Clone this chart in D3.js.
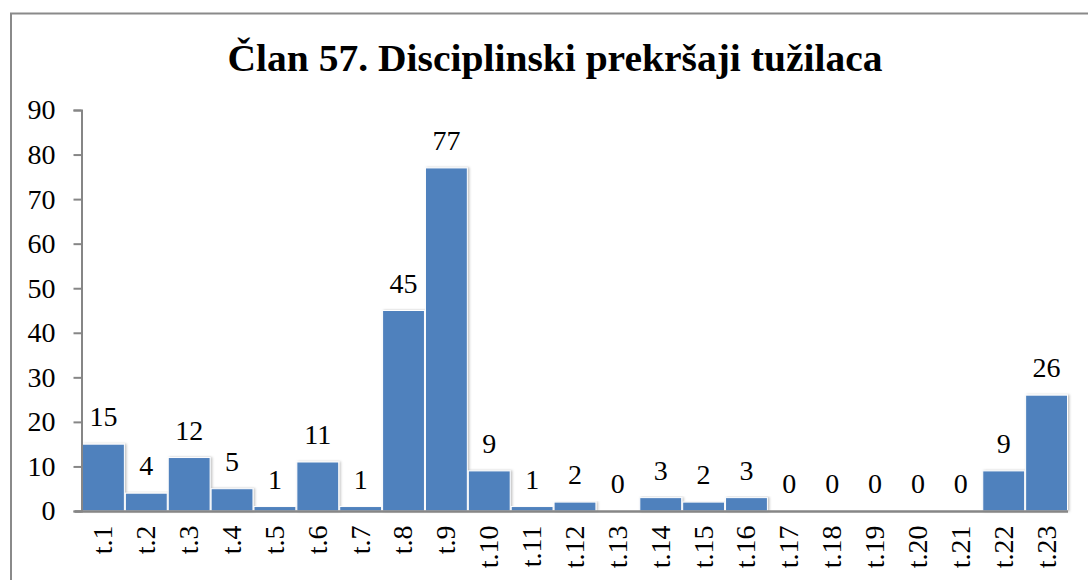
<!DOCTYPE html>
<html>
<head>
<meta charset="utf-8">
<script src="https://cdn.jsdelivr.net/npm/d3@7"></script>
<style>
  body { margin: 0; background: #fff; }
  text { font-family: "Liberation Serif", "DejaVu Serif", serif; }
</style>
</head>
<body>
<div id="chart"></div>
<script>
const categories = ['t.1','t.2','t.3','t.4','t.5','t.6','t.7','t.8','t.9','t.10','t.11','t.12',
  't.13','t.14','t.15','t.16','t.17','t.18','t.19','t.20','t.21','t.22','t.23'];
const values = [15, 4, 12, 5, 1, 11, 1, 45, 77, 9, 1, 2, 0, 3, 2, 3, 0, 0, 0, 0, 0, 9, 26];
const yTicks = [0, 10, 20, 30, 40, 50, 60, 70, 80, 90];
const title = 'Član 57. Disciplinski prekršaji tužilaca';

const width = 1088, height = 580;
const fontSize = '28px';

const svg = d3.select('#chart').append('svg')
  .attr('width', width)
  .attr('height', height);

// outer chart border (runs off the right and bottom edges)
svg.append('rect')
  .attr('x', 11).attr('y', 13.5)
  .attr('width', 1100).attr('height', 600)
  .style('fill', 'none')
  .style('stroke', '#8a8a8a')
  .style('stroke-width', 2);

svg.append('text')
  .attr('x', 555).attr('y', 71)
  .attr('text-anchor', 'middle')
  .style('font-weight', 'bold')
  .style('font-size', '37px')
  .attr('textLength', 655)
  .attr('lengthAdjust', 'spacingAndGlyphs')
  .text(title);

const x = d3.scaleBand()
  .domain(categories)
  .range([82, 1068])
  .paddingInner(0)
  .paddingOuter(0);

const y = d3.scaleLinear()
  .domain([0, 90])
  .range([511, 110]);

const g = svg.append('g');

// bars with a soft shadow
const defs = svg.append('defs');
const f = defs.append('filter').attr('id', 'shadow')
  .attr('x', '-10%').attr('y', '-10%').attr('width', '130%').attr('height', '130%');
f.append('feDropShadow').attr('dx', 1.5).attr('dy', 0).attr('stdDeviation', 1.2)
  .attr('flood-color', '#000').attr('flood-opacity', 0.25);

g.selectAll('rect.bar')
  .data(values)
  .enter().append('rect')
  .attr('class', 'bar')
  .attr('x', (d, i) => x(categories[i]) + 0.5)
  .attr('y', d => y(d))
  .attr('width', x.bandwidth() - 1)
  .attr('height', d => y(0) - y(d))
  .style('fill', '#4f81bd')
  .style('stroke', '#fff')
  .style('stroke-width', 1)
  .attr('filter', 'url(#shadow)');

// value labels
g.selectAll('text.val')
  .data(values)
  .enter().append('text')
  .attr('class', 'val')
  .attr('x', (d, i) => x(categories[i]) + x.bandwidth() / 2)
  .attr('y', d => y(d) - 18)
  .attr('text-anchor', 'middle')
  .style('font-size', fontSize)
  .style('fill', '#000')
  .text(d => d);

// y axis
const yAxis = d3.axisLeft(y).tickValues(yTicks).tickSize(8).tickPadding(18);
const ya = svg.append('g').attr('transform', 'translate(81.5,0)').call(yAxis);
ya.select('.domain').attr('stroke', '#868686').attr('stroke-width', 2);
ya.selectAll('.tick line').attr('stroke', '#868686').attr('stroke-width', 2);
ya.selectAll('.tick text')
  .style('font-family', '"Liberation Serif", serif')
  .style('font-size', fontSize)
  .attr('fill', '#000');

// x axis
const xAxis = d3.axisBottom(x).tickSize(0).tickPadding(0);
const xa = svg.append('g').attr('transform', 'translate(0,511.5)').call(xAxis);
xa.select('.domain').attr('stroke', '#868686').attr('stroke-width', 2.5)
  .attr('d', 'M75,0H1068');
xa.selectAll('.tick text')
  .attr('transform', 'rotate(-90)')
  .attr('x', -14)
  .attr('y', 0)
  .attr('dy', '0.32em')
  .attr('text-anchor', 'end')
  .style('font-family', '"Liberation Serif", serif')
  .style('font-size', fontSize)
  .attr('fill', '#000');
</script>
</body>
</html>
